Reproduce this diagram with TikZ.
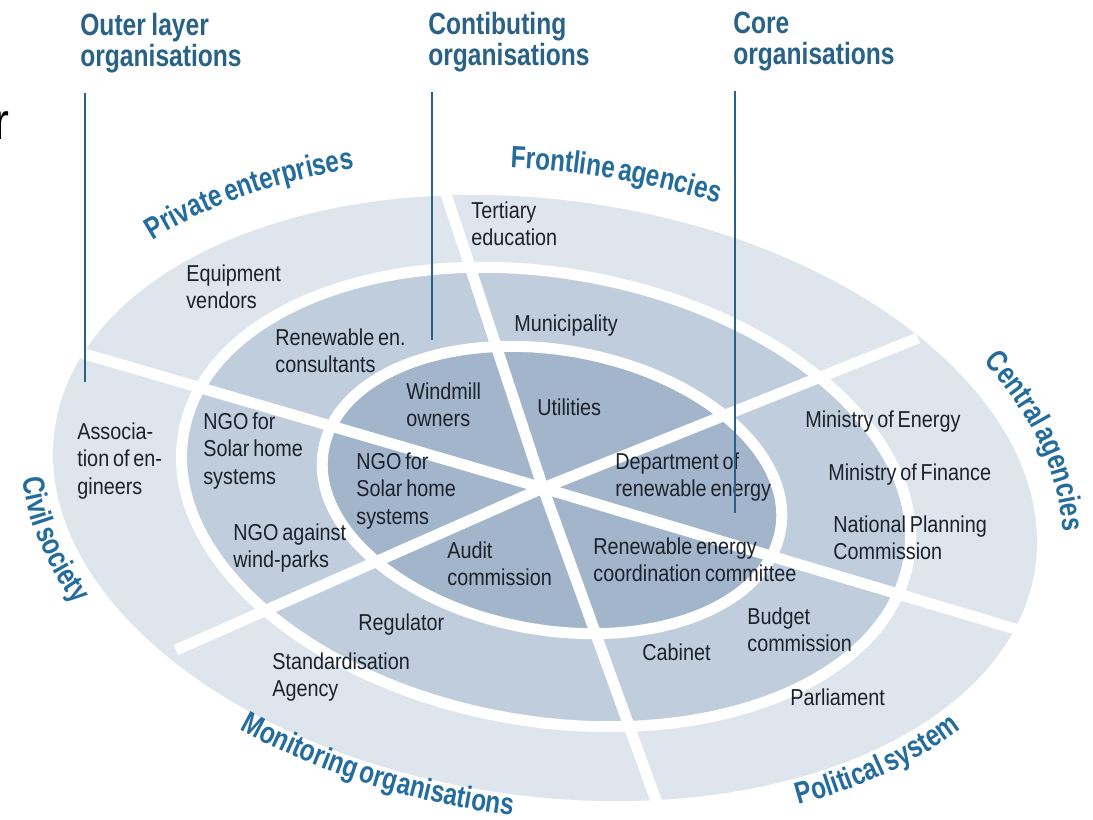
\documentclass[tikz,border=0pt]{standalone}
\usepackage{fontspec}
\setmainfont{Liberation Sans}[FakeStretch=0.86,WordSpace=0.7]
\newfontfamily\headfamily{Liberation Sans}[FakeStretch=0.8,WordSpace=0.8]
\newfontfamily\arcfamily{Liberation Sans}[FakeStretch=0.79,WordSpace=0.5]
\usetikzlibrary{decorations.text}

\definecolor{ringout}{HTML}{DEE5ED}
\definecolor{ringmid}{HTML}{C0CDDC}
\definecolor{ringin}{HTML}{A3B5CB}
\definecolor{headblue}{RGB}{40,98,135}
\definecolor{arcblue}{RGB}{35,108,155}
\definecolor{labelink}{HTML}{1B222B}

\newcommand{\arcfont}{\color{arcblue}\arcfamily\fontsize{17.5}{20}\selectfont\bfseries}

\begin{document}
\begin{tikzpicture}[x=0.02cm,y=-0.02cm]
	\tikzstyle{lab}=[anchor=north west,inner sep=0pt,align=left,text=labelink,font=\fontsize{13.1}{15.9}\selectfont]
	\tikzstyle{head}=[anchor=north west,inner sep=0pt,align=left,text=headblue,font=\headfamily\fontsize{17.5}{17.3}\selectfont\bfseries]
	\tikzstyle{leader}=[draw=headblue,line width=1.1pt,shorten <=0.4cm]
	\tikzstyle{gap}=[draw=white,line width=0.22cm]
	\tikzstyle{divider}=[draw=white,line width=0.22cm]
	\useasboundingbox (0,0) rectangle (1093,820);

	% the three rings
	\path[fill=ringout,rotate around={-8:(545,498)}] (545,498) ellipse [x radius=495,y radius=298];
	\path[fill=ringmid,gap,rotate around={-10:(546,497)}] (546,497) ellipse [x radius=368,y radius=224];
	\path[fill=ringin,gap,rotate around={-10:(552,490)}] (552,490) ellipse [x radius=232,y radius=140];

	% sector dividers
	\coordinate (hub) at (543,488);
	\foreach \tip in {(444,188),(918,338),(1022,631),(658,806),(176,650),(78,352)}
		\draw[divider] (hub) -- \tip;

	% stray letter at the left edge
	\node[anchor=base west,inner sep=0pt,font=\fontsize{29.5}{30}\selectfont] (stray) at (-6,140) {r};

	% layer headers
	\node[head] (hOuter) at (80,13) {Outer layer\\organisations};
	\node[head] (hContrib) at (428,12) {Contibuting\\organisations};
	\node[head] (hCore) at (733,12) {Core\\organisations};

	\coordinate (outerTip) at (85,382);
	\coordinate (contribTip) at (432,340);
	\coordinate (coreTip) at (735,513);

	% sector names round the rim
	\path[rotate around={-8:(545,498)},decorate,decoration={text along path,text align=center,text={|\arcfont|Private enterprises}}]
		(545,498) ++(198:531 and 334) arc [start angle=198,end angle=258,x radius=531,y radius=334];
	\path[rotate around={-8:(545,498)},decorate,decoration={text along path,text align=center,text={|\arcfont|Frontline agencies}}]
		(545,498) ++(243:523 and 326) arc [start angle=243,end angle=303,x radius=523,y radius=326];
	\path[rotate around={-8:(545,498)},decorate,decoration={text along path,text align=center,text={|\arcfont|Central agencies}}]
		(545,498) ++(310:521 and 324) arc [start angle=310,end angle=370,x radius=521,y radius=324];
	\path[rotate around={-8:(545,498)},decorate,decoration={text along path,text align=center,text={|\arcfont|Civil society}}]
		(545,498) ++(192:527 and 330) arc [start angle=192,end angle=132,x radius=527,y radius=330];
	\path[rotate around={-8:(545,498)},decorate,decoration={text along path,text align=center,text={|\arcfont|Monitoring organisations}}]
		(545,498) ++(136:516 and 319) arc [start angle=136,end angle=76,x radius=516,y radius=319];
	\path[rotate around={-8:(545,498)},decorate,decoration={text along path,text align=center,text={|\arcfont|Political system}}]
		(545,498) ++(71:522 and 325) arc [start angle=71,end angle=11,x radius=522,y radius=325];

	% organisations in the sectors
	\node[lab] (eqv) at (186,264) {Equipment\\vendors};
	\node[lab] (ter) at (471,201) {Tertiary\\education};
	\node[lab] (rec) at (275,328) {Renewable en.\\consultants};
	\node[lab] (mun) at (514,314) {Municipality};
	\node[lab] (wmo) at (406,382) {Windmill\\owners};
	\node[lab] (uti) at (537,398) {Utilities};
	\node[lab] (aoe) at (77,422) {Associa-\\tion of en-\\gineers};
	\node[lab] (ngoMid) at (203,412) {NGO for\\Solar home\\systems};
	\node[lab] (ngoIn) at (356,452) {NGO for\\Solar home\\systems};
	\node[lab] (dre) at (615,452) {Department of\\renewable energy};
	\node[lab] (moe) at (805,410) {Ministry of Energy};
	\node[lab] (mof) at (828,463) {Ministry of Finance};
	\node[lab] (npc) at (833,515) {National Planning\\Commission};
	\node[lab] (nwp) at (233,523) {NGO against\\wind-parks};
	\node[lab] (aud) at (447,541) {Audit\\commission};
	\node[lab] (rcc) at (593,537) {Renewable energy\\coordination committee};
	\node[lab] (reg) at (358,613) {Regulator};
	\node[lab] (bud) at (747,607) {Budget\\commission};
	\node[lab] (cab) at (642,643) {Cabinet};
	\node[lab] (sta) at (272,652) {Standardisation\\Agency};
	\node[lab] (par) at (790,688) {Parliament};

	% header leaders
	\draw[leader] (hOuter.south -| outerTip) -- (outerTip);
	\draw[leader] (hContrib.south -| contribTip) -- (contribTip);
	\draw[leader] (hCore.south -| coreTip) -- (coreTip);
\end{tikzpicture}
\end{document}
